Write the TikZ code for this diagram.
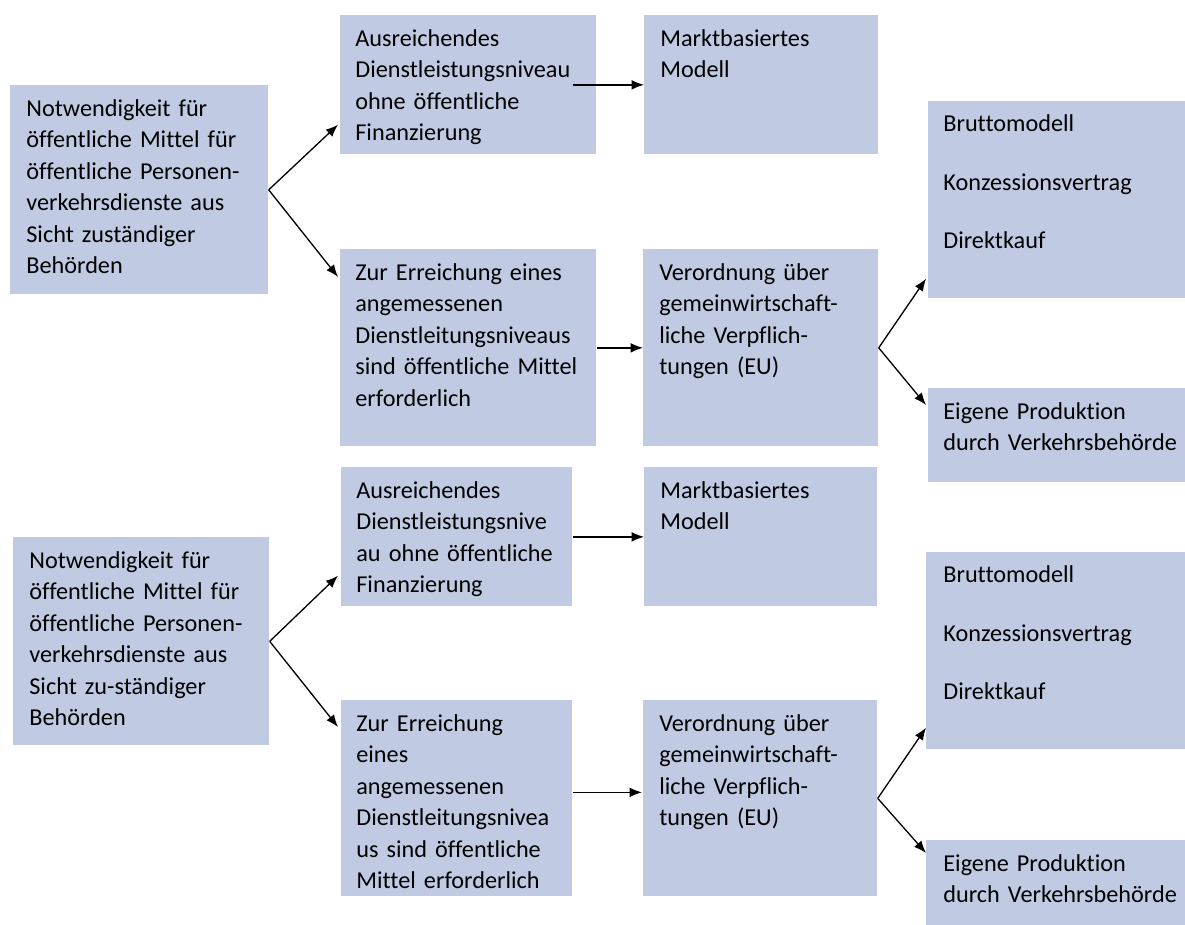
\documentclass[tikz,border=0pt]{standalone}
\usepackage{fontspec}
\setmainfont{Carlito}[Ligatures={NoCommon}]
\usepackage{tikz}
\usetikzlibrary{arrows.meta,calc}
\definecolor{boxblue}{RGB}{192,202,226}

\begin{document}
\begin{tikzpicture}[x=0.02cm,y=-0.02cm,
    box/.style 2 args={fill=boxblue,anchor=north west,inner sep=0pt,
      minimum width=#1*0.02cm,minimum height=#2*0.02cm},
    txt/.style={anchor=north west,inner sep=0pt,align=left,text width=8cm,
      font=\fontsize{13.8}{17.9}\selectfont,execute at begin node=\rule{0pt}{10.5pt}},
    arr/.style={-{Latex[length=7pt,width=5.5pt]},line width=0.75pt}]
    \useasboundingbox (0,0) rectangle (1185,925);
    % upper chart
    \node[box={258}{209}] (a1) at (10,85) {};
    \node[box={256}{139}] (b1) at (340,15) {};
    \node[box={234}{139}] (c1) at (644,15) {};
    \node[box={256}{197}] (d1) at (340,249) {};
    \node[box={235}{197}] (e1) at (643,249) {};
    \node[box={257}{197}] (f1) at (928,101) {};
    \node[box={257}{94}] (g1) at (928,388) {};
    \node[txt] (a1t) at ($(a1.north west)+(16,12.5)$) {Notwendigkeit für\\öffentliche Mittel für\\öffentliche Personen-\\verkehrsdienste aus\\Sicht zuständiger\\Behörden};
    \node[txt] (b1t) at ($(b1.north west)+(15,12.5)$) {Ausreichendes\\Dienstleistungsniveau\\ohne öffentliche\\Finanzierung};
    \node[txt] (c1t) at ($(c1.north west)+(16,12.5)$) {Marktbasiertes\\Modell};
    \node[txt] (d1t) at ($(d1.north west)+(15,12.5)$) {Zur Erreichung eines\\angemessenen\\Dienstleitungsniveaus\\sind öffentliche Mittel\\erforderlich};
    \node[txt] (e1t) at ($(e1.north west)+(16,12.5)$) {Verordnung über\\gemeinwirtschaft-\\liche Verpflich-\\tungen (EU)};
    \node[txt] (f1t) at ($(f1.north west)+(15,12)$) {Bruttomodell\\[15.3pt]Konzessionsvertrag\\[15.3pt]Direktkauf};
    \node[txt] (g1t) at ($(g1.north west)+(15,12.5)$) {Eigene Produktion\\durch Verkehrsbehörde};
    \draw[arr] (a1.east) -- ($(b1.south west)+(-2,-30)$);
    \draw[arr] (a1.east) -- ($(d1.north west)+(-2,28)$);
    \draw[arr] ($(b1.east)+(-24,0)$) -- (c1.west);
    \draw[arr] (d1.east) -- (e1.west);
    \draw[arr] (e1.east) -- ($(f1.south west)+(-2,-20)$);
    \draw[arr] (e1.east) -- ($(g1.north west)+(-2,17)$);
    % lower chart
    \node[box={256}{208}] (a2) at (13,537) {};
    \node[box={231}{139}] (b2) at (341,467) {};
    \node[box={233}{139}] (c2) at (644,467) {};
    \node[box={231}{196}] (d2) at (341,700) {};
    \node[box={234}{196}] (e2) at (643,700) {};
    \node[box={259}{197}] (f2) at (926,552) {};
    \node[box={259}{85}] (g2) at (926,840) {};
    \node[txt] (a2t) at ($(a2.north west)+(16,12.5)$) {Notwendigkeit für\\öffentliche Mittel für\\öffentliche Personen-\\verkehrsdienste aus\\Sicht zu-ständiger\\Behörden};
    \node[txt] (b2t) at ($(b2.north west)+(15,12.5)$) {Ausreichendes\\Dienstleistungsnive\\au ohne öffentliche\\Finanzierung};
    \node[txt] (c2t) at ($(c2.north west)+(16,12.5)$) {Marktbasiertes\\Modell};
    \node[txt] (d2t) at ($(d2.north west)+(15,12.5)$) {Zur Erreichung\\eines\\angemessenen\\Dienstleitungsnivea\\us sind öffentliche\\Mittel erforderlich};
    \node[txt] (e2t) at ($(e2.north west)+(16,12.5)$) {Verordnung über\\gemeinwirtschaft-\\liche Verpflich-\\tungen (EU)};
    \node[txt] (f2t) at ($(f2.north west)+(17,12)$) {Bruttomodell\\[15.3pt]Konzessionsvertrag\\[15.3pt]Direktkauf};
    \node[txt] (g2t) at ($(g2.north west)+(17,12.5)$) {Eigene Produktion\\durch Verkehrsbehörde};
    \draw[arr] (a2.east) -- ($(b2.south west)+(-3,-31)$);
    \draw[arr] (a2.east) -- ($(d2.north west)+(-3,27)$);
    \draw[arr] (b2.east) -- (c2.west);
    \draw[arr] ($(d2.east)+(0,-6)$) -- ($(e2.west)+(-1,-6)$);
    \draw[arr] (e2.east) -- ($(f2.south west)+(0,-22)$);
    \draw[arr] (e2.east) -- ($(g2.north west)+(0,13)$);
\end{tikzpicture}
\end{document}
